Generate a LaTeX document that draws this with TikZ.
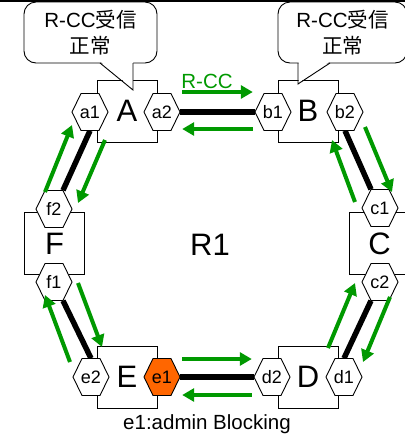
\documentclass[tikz,border=0pt]{standalone}
\usepackage{fontspec}
\setmainfont{Liberation Sans}
\newfontfamily\jpfont{Noto Sans CJK JP}
\usetikzlibrary{arrows.meta,calc}
\definecolor{rccgreen}{RGB}{0,153,0}
\definecolor{blockorange}{RGB}{255,102,0}
\pgfdeclarelayer{bg}
\pgfsetlayers{bg,main}
\tikzset{
  box/.style={draw, line width=0.9pt, fill=white, minimum width=60pt, minimum height=62pt, inner sep=0pt, font=\fontsize{31}{31}\selectfont},
  port/.style={minimum width=36pt, minimum height=37pt, inner sep=0pt, font=\fontsize{18}{18}\selectfont},
  hexline/.style={draw, line width=0.9pt},
  bubble/.style={draw, line width=0.9pt, fill=white, rounded corners=12pt, minimum width=133pt, minimum height=61pt, align=center, inner sep=0pt, font=\fontsize{20.5}{26}\selectfont},
  tail/.style={line width=0.9pt, line join=miter},
  link/.style={line width=5.5pt},
  sig/.style={rccgreen, line width=4pt, -{Triangle[length=12pt,width=13pt]}},
  txt/.style={inner sep=0pt, font=\fontsize{20.5}{20.5}\selectfont},
  bigtxt/.style={inner sep=0pt, font=\fontsize{31}{31}\selectfont},
}
\newcommand\hexport[5]{%
  \filldraw[hexline, fill=#5] (#2-18,#3) -- (#2-9,#3-18.5) -- (#2+9,#3-18.5) -- (#2+18,#3) -- (#2+9,#3+18.5) -- (#2-9,#3+18.5) -- cycle;
  \node[port] (#1) at (#2,#3) {#4};
}
\begin{document}
\begin{tikzpicture}[x=1pt,y=-1pt]
\useasboundingbox (0,0) rectangle (405,440);
\clip (0,0) rectangle (405,440);
\fill (0,0) rectangle (405,2);
% boxes
\node[box] (A) at (127,111) {A};
\node[box] (B) at (308,111) {B};
\node[box] (C) at (379.5,243.5) {C};
\node[box] (D) at (308,377) {D};
\node[box] (E) at (127,377) {E};
\node[box] (F) at (54.5,243.5) {F};
% bubbles
\node[bubble] (bubA) at (90.5,32.5) {R-CC{\jpfont 受信}\\{\jpfont 正常}};
\fill[white] (101,62) -- (133,89) -- (133,62) -- cycle;
\draw[tail] (100,63) -- (133,90) -- (133,63);
\node[bubble, minimum width=129pt] (bubB) at (342.5,32.5) {R-CC{\jpfont 受信}\\{\jpfont 正常}};
\fill[white] (298.5,62) -- (298.5,83) -- (329,62) -- cycle;
\draw[tail] (298,63) -- (298,84) -- (330,63);
% ports
\hexport{a1}{90}{112}{a1}{white}
\hexport{a2}{162}{112}{a2}{white}
\hexport{b1}{273}{112}{b1}{white}
\hexport{b2}{345}{112}{b2}{white}
\hexport{c1}{380}{208}{c1}{white}
\hexport{c2}{380}{282}{c2}{white}
\hexport{d1}{344}{377}{d1}{white}
\hexport{d2}{272}{377}{d2}{white}
\hexport{e1}{162}{377}{e1}{blockorange}
\hexport{e2}{91}{377}{e2}{white}
\hexport{f1}{54}{282}{f1}{white}
\hexport{f2}{54}{209}{f2}{white}
% links
\begin{pgfonlayer}{bg}
\draw[link] (a2.east) -- (b1.west);
\draw[link] (b2.south) -- ($(c1.north)+(-9,0)$);
\draw[link] ($(c2.south)+(-9,0)$) -- (d1.north);
\draw[link] (e1.east) -- (d2.west);
\draw[link] ($(f1.south)+(9,0)$) -- (e2.north);
\draw[link] (a1.south) -- ($(f2.north)+(9,0)$);
\end{pgfonlayer}
% R-CC signals
\draw[sig] ($(a2.east)+(2,-20)$) -- ($(b1.west)+(-2,-20)$);
\draw[sig] ($(b1.west)+(-2,17)$) -- ($(a2.east)+(2,17)$);
\draw[sig] ($(b2)+(20,15)$) -- ($(c1)+(12,-16)$);
\draw[sig] ($(c1)+(-25,-6)$) -- ($(b2)+(-13,28)$);
\draw[sig] ($(c2)+(10,15)$) -- ($(d1)+(19,-15)$);
\draw[sig] ($(d1)+(-16,-29)$) -- ($(c2)+(-25,1)$);
\draw[sig] ($(e1.east)+(2,-18)$) -- ($(d2.west)+(-2,-18)$);
\draw[sig] ($(d2.west)+(-2,18)$) -- ($(e1.east)+(2,18)$);
\draw[sig] ($(e2)+(-21,-15)$) -- ($(f1)+(-9,13)$);
\draw[sig] ($(f1)+(24,1)$) -- ($(e2)+(11,-30)$);
\draw[sig] ($(f2)+(-9,-17)$) -- ($(a1)+(-18,13)$);
\draw[sig] ($(a1)+(15,28)$) -- ($(f2)+(24,-6)$);
% labels
\node[txt, text=rccgreen] (rcc) at (207,81) {R-CC};
\node[bigtxt] (r1) at (210,245) {R1};
\node[txt] (cap) at (207,424) {e1:admin Blocking};
\end{tikzpicture}
\end{document}
